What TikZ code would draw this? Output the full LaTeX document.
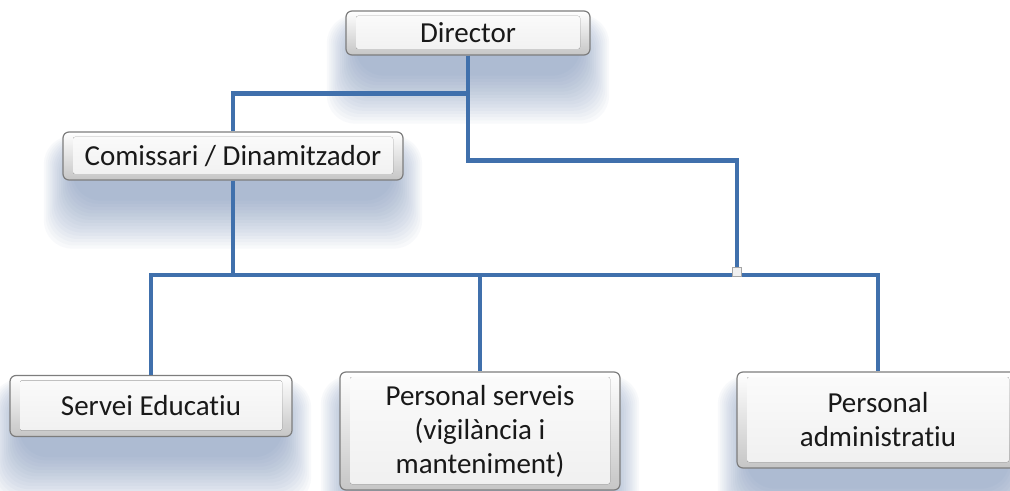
\documentclass[tikz,border=0pt]{standalone}
\usepackage{fontspec}
\setmainfont{Carlito}[Ligatures=NoCommon]
\usetikzlibrary{backgrounds}
\definecolor{linkblue}{RGB}{64,112,172}
\definecolor{shadowblue}{RGB}{80,112,165}
\definecolor{boxedge}{RGB}{125,125,125}
\tikzset{
  orgbox/.style={rectangle, rounded corners=3pt, draw=boxedge, line width=0.6pt,
    top color=white, bottom color=gray!45, align=center, text=black!90,
    font=\fontsize{14.5}{17}\selectfont, inner sep=0pt,
    path picture={\fill[rounded corners=1pt, top color=white!97!gray, bottom color=gray!12]
      ([shift={(5pt,-2.5pt)}]path picture bounding box.north west) rectangle
      ([shift={(-5pt,3pt)}]path picture bounding box.south east);}},
  conn/.style={draw=linkblue, line width=2.2pt},
  junction/.style={rectangle, draw=gray!70, fill=gray!12, minimum size=4.5pt, inner sep=0pt, line width=0.4pt},
  softshadow/.style={fill=shadowblue, opacity=0.035, rounded corners=14pt}
}
\newcommand{\boxshadow}[1]{%
  \foreach \i in {0,...,15}{
    \path[softshadow] ([shift={({10-1.9*\i},{18-0.9*\i})}]#1.north west) rectangle ([shift={({-10+1.9*\i},{20+3.2*\i})}]#1.south east);
  }}
\begin{document}
\begin{tikzpicture}[x=0.5pt,y=-0.5pt]
\useasboundingbox (0,0) rectangle (1010,491);
% boxes
\node[orgbox, minimum width=122pt, minimum height=22pt] (dir) at (468,33) {Director};
\node[orgbox, minimum width=170pt, minimum height=24pt] (com) at (233,156) {Comissari / Dinamitzador};
\node[orgbox, minimum width=141pt, minimum height=30.5pt] (ser) at (151,406) {Servei Educatiu};
\node[orgbox, minimum width=140pt, minimum height=59pt] (pse) at (480,431) {Personal serveis\\(vigilància i\\manteniment)};
\node[orgbox, minimum width=141pt, minimum height=48pt] (adm) at (878,420) {Personal\\administratiu};
% shadows
\begin{scope}[on background layer]
  \fill[white] (0,0) rectangle (1010,491);
  \boxshadow{dir}
  \boxshadow{com}
  \boxshadow{ser}
  \boxshadow{pse}
  \boxshadow{adm}
\end{scope}
% junction coordinates
\coordinate (bus) at (0,275);
\node[junction] (sq) at (737,272) {};
% connectors
\draw[conn] (dir.south) -- ++(0,38) -| (com.north);
\draw[conn] (dir.south) -- ++(0,105) -| (sq.center);
\draw[conn] (com.south) -- (com.south |- bus);
\draw[conn] (ser.north) |- (adm.north |- bus) -- (adm.north);
\draw[conn] (pse.north) -- (pse.north |- bus);
\node[junction] at (sq.center) {};
\end{tikzpicture}
\end{document}
